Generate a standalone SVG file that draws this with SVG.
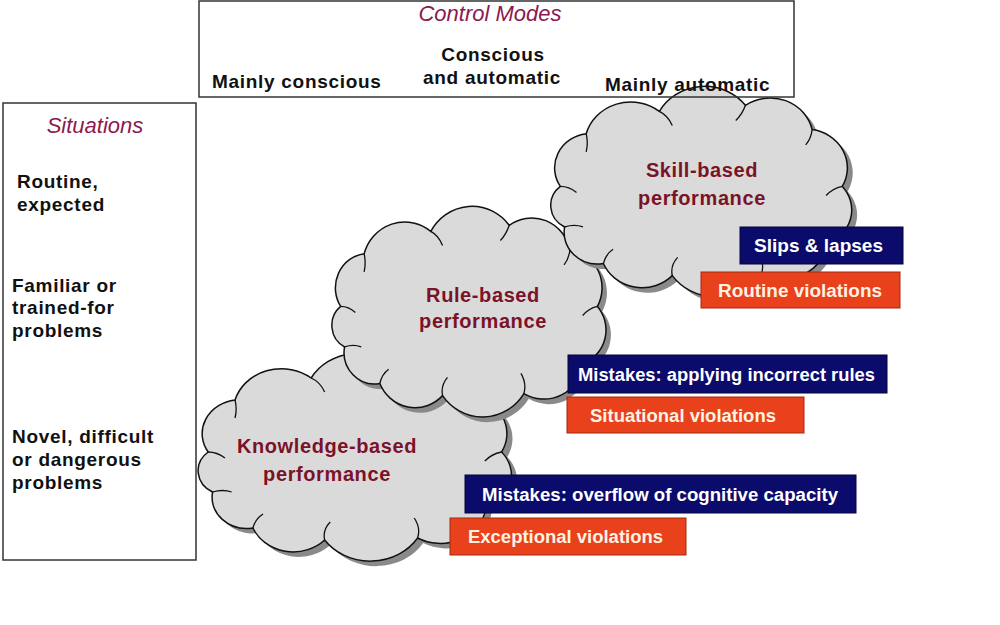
<svg xmlns="http://www.w3.org/2000/svg" xmlns:xlink="http://www.w3.org/1999/xlink" width="1000" height="625" viewBox="0 0 1000 625">
<style>
.frame{fill:none;stroke:#333;stroke-width:1.5}
.head{font-family:"Liberation Sans",Arial,sans-serif;font-style:italic;font-size:22px;fill:#8b1a50}
.lbl{font-family:"Liberation Sans",Arial,sans-serif;font-weight:bold;font-size:19px;fill:#111;letter-spacing:0.7px}
.cl{font-family:"Liberation Sans",Arial,sans-serif;font-weight:bold;font-size:20px;fill:#7a1228;text-anchor:middle;letter-spacing:0.6px}
.cloud{fill:#dadada;stroke:#111}
.shadow{fill:#8a8a8a;stroke:none}
.crease{fill:none;stroke:#111}
.navy{fill:#0b0b6c;stroke:#05053a;stroke-width:1}
.red{fill:#e8411b;stroke:#a02810;stroke-width:1}
.bt{font-family:"Liberation Sans",Arial,sans-serif;font-weight:bold;font-size:18px}
.wt{fill:#ffffff}
.ct{fill:#fff2e2}
</style>
<defs>
<path id="cloudShape" vector-effect="non-scaling-stroke" stroke-width="1.5" d="M18,100 A34,34 0 0 1 42,48 A43,43 0 0 1 110,26 A48,48 0 0 1 190,20 A40,40 0 0 1 252,44 A38,38 0 0 1 280,100 A35,35 0 0 1 266,156 A41,41 0 0 1 205,186 A50,50 0 0 1 122,188 A39,39 0 0 1 58,176 A31,31 0 0 1 22,140 A24,24 0 0 1 18,100 Z"/>
<path id="creases" vector-effect="non-scaling-stroke" stroke-width="1.3" d="M42,48 q2,9 0,18 M110,26 q8,4 12,14 M190,20 q-3,9 -9,15 M252,44 q-1,9 -6,15 M280,100 q-9,2 -15,9 M205,186 q3,-10 -3,-20 M122,188 q-2,-10 5,-18 M58,176 q2,-9 9,-14 M22,140 q9,-3 17,0 M18,100 q8,0 15,6"/>
</defs>

<g id="knowledge-cloud">
<g transform="translate(188,352) scale(1.12,1.0)">
<use xlink:href="#cloudShape" class="shadow" transform="translate(5,5)"/>
<use xlink:href="#cloudShape" class="cloud"/>
<use xlink:href="#creases" class="crease"/>
</g>
<text class="cl" x="327" y="453">Knowledge-based</text>
<text class="cl" x="327" y="481">performance</text>
</g>

<g id="rule-cloud">
<g transform="translate(323,205) scale(0.98,1.014)">
<use xlink:href="#cloudShape" class="shadow" transform="translate(5,5)"/>
<use xlink:href="#cloudShape" class="cloud"/>
<use xlink:href="#creases" class="crease"/>
</g>
<text class="cl" x="483" y="302">Rule-based</text>
<text class="cl" x="483" y="328">performance</text>
</g>

<g id="skill-cloud">
<g transform="translate(541,85) scale(1.076,1.014)">
<use xlink:href="#cloudShape" class="shadow" transform="translate(5,5)"/>
<use xlink:href="#cloudShape" class="cloud"/>
<use xlink:href="#creases" class="crease"/>
</g>
<text class="cl" x="702" y="177">Skill-based</text>
<text class="cl" x="702" y="205">performance</text>
</g>

<g id="control-modes">
<rect class="frame" x="199" y="1" width="595" height="96"/>
<text class="head" x="490" y="21" text-anchor="middle">Control Modes</text>
<text class="lbl" x="212" y="88">Mainly conscious</text>
<text class="lbl" x="493" y="61" text-anchor="middle">Conscious</text>
<text class="lbl" x="492" y="84" text-anchor="middle">and automatic</text>
<text class="lbl" x="605" y="91">Mainly automatic</text>
</g>

<g id="situations">
<rect class="frame" x="3" y="103" width="193" height="457"/>
<text class="head" x="95" y="133" text-anchor="middle">Situations</text>
<text class="lbl" x="17" y="188">Routine,</text>
<text class="lbl" x="17" y="211">expected</text>
<text class="lbl" x="12" y="292">Familiar or</text>
<text class="lbl" x="12" y="314">trained-for</text>
<text class="lbl" x="12" y="337">problems</text>
<text class="lbl" x="12" y="443">Novel, difficult</text>
<text class="lbl" x="12" y="466">or dangerous</text>
<text class="lbl" x="12" y="489">problems</text>
</g>

<g id="slips">
<rect class="navy" x="740" y="227" width="163" height="37"/>
<text class="bt wt" x="754" y="252" textLength="129" lengthAdjust="spacingAndGlyphs">Slips &amp; lapses</text>
</g>
<g id="routine-violations">
<rect class="red" x="701" y="272" width="199" height="36"/>
<text class="bt ct" x="718" y="297" textLength="164" lengthAdjust="spacingAndGlyphs">Routine violations</text>
</g>
<g id="mistakes-rules">
<rect class="navy" x="568" y="355" width="319" height="38"/>
<text class="bt wt" x="578" y="381" textLength="297" lengthAdjust="spacingAndGlyphs">Mistakes: applying incorrect rules</text>
</g>
<g id="situational-violations">
<rect class="red" x="567" y="397" width="237" height="36"/>
<text class="bt ct" x="590" y="422" textLength="186" lengthAdjust="spacingAndGlyphs">Situational violations</text>
</g>
<g id="mistakes-overflow">
<rect class="navy" x="465" y="475" width="391" height="38"/>
<text class="bt wt" x="482" y="501" textLength="356" lengthAdjust="spacingAndGlyphs">Mistakes: overflow of cognitive capacity</text>
</g>
<g id="exceptional-violations">
<rect class="red" x="450" y="518" width="236" height="37"/>
<text class="bt ct" x="468" y="543" textLength="195" lengthAdjust="spacingAndGlyphs">Exceptional violations</text>
</g>
</svg>
